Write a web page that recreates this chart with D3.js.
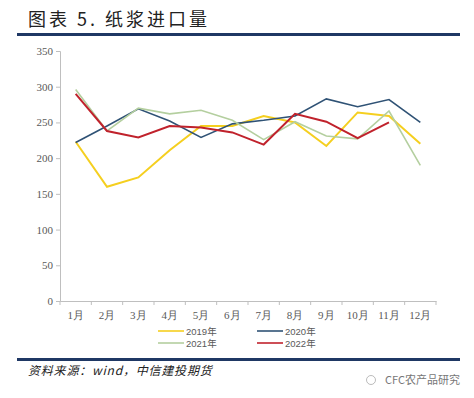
<!DOCTYPE html>
<html>
<head>
<meta charset="utf-8">
<script src="https://cdn.jsdelivr.net/npm/d3@7"></script>
<style>
  body { margin: 0; background: #fff; }
  svg { display: block; }
</style>
</head>
<body>
<div id="chart"></div>
<script>
// 月份与年度数据（万吨）
var months = ["1月", "2月", "3月", "4月", "5月", "6月", "7月", "8月", "9月", "10月", "11月", "12月"];
var y2019 = [223, 160, 173, 211, 245, 245, 259, 250, 217, 264, 259, 220];
var y2020 = [222, 245, 269, 252, 229, 248, 253, 259, 283, 272, 282, 250];
var y2021 = [296, 238, 270, 262, 267, 253, 226, 251, 231, 227, 266, 190];
var y2022 = [290, 238, 229, 245, 243, 236, 219, 262, 251, 228, 250];
var yTicks = [0, 50, 100, 150, 200, 250, 300, 350];

var series = [
    { name: "2019年", values: y2019, color: "#f5cf1f", width: 2 },
    { name: "2020年", values: y2020, color: "#2f5275", width: 1.6 },
    { name: "2021年", values: y2021, color: "#b4cf9f", width: 1.6 },
    { name: "2022年", values: y2022, color: "#c0222c", width: 2 }
];

var width = 474, height = 398;
var svg = d3.select("#chart").append("svg")
    .attr("width", width)
    .attr("height", height);

var navy = "#1f3864";
var serif = "'Liberation Serif', 'DejaVu Serif', serif";
var cjk = "'Noto Sans CJK SC', sans-serif";

// 标题
svg.append("text")
    .attr("x", 28).attr("y", 26)
    .style("font-family", cjk)
    .style("font-size", "18px")
    .style("letter-spacing", "3px")
    .attr("fill", "#222")
    .text("图表 5.  纸浆进口量");

svg.append("rect").attr("x", 17).attr("y", 33).attr("width", 443).attr("height", 3).attr("fill", navy);
svg.append("rect").attr("x", 17).attr("y", 358).attr("width", 443).attr("height", 3).attr("fill", navy);

// 比例尺
var x = d3.scaleBand().domain(months).range([60, 436]).padding(0);
var y = d3.scaleLinear().domain([0, 350]).range([301, 51]);

var axisColor = "#bfbfbf";

var yAxis = svg.append("g")
    .attr("transform", "translate(60,0)")
    .call(d3.axisLeft(y).tickValues(yTicks).tickSize(4).tickPadding(3));
yAxis.select(".domain").attr("stroke", axisColor);
yAxis.selectAll(".tick line").attr("stroke", axisColor);
yAxis.selectAll("text")
    .style("font-family", serif).style("font-size", "11px").attr("fill", "#595959");

var xAxis = svg.append("g")
    .attr("transform", "translate(0,301)")
    .call(d3.axisBottom(x).tickSize(0).tickPadding(10).tickSizeOuter(0));
xAxis.select(".domain").attr("stroke", axisColor);
xAxis.selectAll("text")
    .style("font-family", serif).style("font-size", "11px").attr("fill", "#595959");

// 类别边界刻度
svg.append("g").selectAll("line")
    .data(months.concat(["end"]))
    .enter().append("line")
    .attr("x1", (d, i) => 60 + i * x.bandwidth())
    .attr("x2", (d, i) => 60 + i * x.bandwidth())
    .attr("y1", 301).attr("y2", 305)
    .attr("stroke", axisColor);

// 折线
var line = d3.line()
    .x((d, i) => x(months[i]) + x.bandwidth() / 2)
    .y(d => y(d));

svg.selectAll(".series")
    .data(series)
    .enter().append("path")
    .attr("class", "series")
    .attr("d", d => line(d.values))
    .attr("fill", "none")
    .attr("stroke", d => d.color)
    .attr("stroke-width", d => d.width)
    .attr("stroke-linejoin", "miter");

// 图例
var legendPos = [[158, 331], [257, 331], [158, 343], [257, 343]];
var legend = svg.selectAll(".legend")
    .data(series)
    .enter().append("g")
    .attr("class", "legend")
    .attr("transform", (d, i) => "translate(" + legendPos[i][0] + "," + legendPos[i][1] + ")");
legend.append("line")
    .attr("x1", 0).attr("x2", 26)
    .attr("stroke", d => d.color).attr("stroke-width", 1.6);
legend.append("text")
    .attr("x", 28).attr("y", 3.5)
    .style("font-family", "'Liberation Sans', 'Noto Sans CJK SC', sans-serif")
    .style("font-size", "9.5px")
    .attr("fill", "#595959")
    .text(d => d.name);

// 资料来源
svg.append("text")
    .attr("x", 28).attr("y", 375)
    .style("font-family", cjk)
    .style("font-size", "12px")
    .style("font-style", "italic")
    .style("letter-spacing", "0.8px")
    .attr("fill", "#222")
    .text("资料来源：wind，中信建投期货");

// 水印
svg.append("circle").attr("cx", 371).attr("cy", 380).attr("r", 4.5)
    .attr("fill", "none").attr("stroke", "#aaa").attr("stroke-width", 0.8);
svg.append("text")
    .attr("x", 385).attr("y", 384)
    .style("font-family", cjk)
    .style("font-size", "11px")
    .attr("fill", "#777")
    .text("CFC农产品研究");
</script>
</body>
</html>
